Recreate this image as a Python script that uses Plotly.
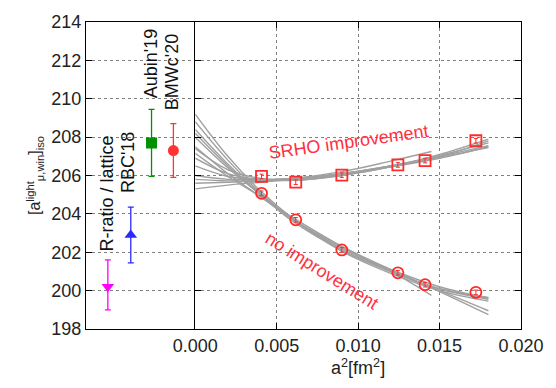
import plotly.graph_objects as go

# ---- left panel: reference determinations ----
ref_labels = ["R-ratio / lattice", "RBC'18", "Aubin'19", "BMWc'20"]
ref_pos = [0.2, 0.41, 0.6, 0.8]
ref_vals = [200.2, 202.9, 207.7, 207.3]
ref_err_plus = [1.4, 1.45, 1.75, 1.4]
ref_err_minus = [1.2, 1.45, 1.75, 1.4]
ref_symbols = ["triangle-down", "triangle-up", "square", "circle"]
ref_colors = ["#ff00ff", "#2a2aff", "#009000", "#ff3333"]

# ---- right panel: lattice data ----
a2 = [0.00407, 0.00617, 0.0090, 0.01244, 0.01411, 0.01723]
srho = [205.95, 205.65, 206.02, 206.55, 206.78, 207.81]
noimp = [205.07, 203.69, 202.12, 200.93, 200.31, 199.91]

# fit curves (values read at knots)
knots = [0, 0.002, 0.004, 0.006, 0.009, 0.012, 0.015, 0.018]
knots_short = [0, 0.002, 0.004, 0.006, 0.009, 0.012, 0.0145]
noimp_fits = [
    [209.2, 207.0, 205.2, 203.75, 202.05, 200.9, 200.0, 199.45],
    [208.8, 206.8, 205.1, 203.7, 202.1, 201.0, 200.1, 199.55],
    [208.4, 206.6, 205.0, 203.6, 202.1, 201.0, 200.0, 198.95],
    [208.0, 206.4, 205.0, 203.7, 202.2, 201.1, 200.2, 199.6],
    [207.5, 206.1, 204.9, 203.7, 202.3, 201.1, 199.95, 198.75],
    [207.15, 205.95, 204.9, 203.8, 202.3, 201.0, 200.1, 199.65],
]
noimp_fits_short = [
    [208.2, 206.5, 205.05, 203.7, 202.2, 201.0, 199.75],
]
srho_fits = [
    [207.4, 206.3, 205.85, 205.75, 206.0, 206.45, 207.0, 207.55],
    [206.9, 206.1, 205.8, 205.75, 206.0, 206.45, 207.1, 207.9],
    [206.5, 205.95, 205.8, 205.8, 206.05, 206.5, 207.05, 207.7],
    [206.0, 205.8, 205.8, 205.85, 206.1, 206.5, 206.95, 207.45],
    [205.6, 205.65, 205.72, 205.85, 206.1, 206.45, 206.9, 207.5],
    [205.3, 205.5, 205.65, 205.8, 206.1, 206.5, 207.0, 207.8],
]
srho_fits_short = [
    [205.8, 205.72, 205.75, 205.85, 206.2, 206.75, 207.25],
]

# ---- axis ticks ----
y_ticks = [198, 200, 202, 204, 206, 208, 210, 212, 214]
x_ticks = [0.000, 0.005, 0.010, 0.015, 0.020]
x_tick_labels = ["0.000", "0.005", "0.010", "0.015", "0.020"]

FONT = "Liberation Sans, Arial, sans-serif"
GRAY = "#a0a0a0"

fig = go.Figure()

# fit curves
for ys in noimp_fits + srho_fits:
    fig.add_trace(go.Scatter(x=knots, y=ys, mode="lines", line=dict(color=GRAY, width=1.4, shape="spline"),
                             xaxis="x2", yaxis="y2", hoverinfo="skip"))
for ys in noimp_fits_short + srho_fits_short:
    fig.add_trace(go.Scatter(x=knots_short, y=ys, mode="lines", line=dict(color=GRAY, width=1.4, shape="spline"),
                             xaxis="x2", yaxis="y2", hoverinfo="skip"))

# data points
fig.add_trace(go.Scatter(x=a2, y=srho, mode="markers", xaxis="x2", yaxis="y2",
                         marker=dict(symbol="square-open", size=11, color="#ff2a2a", line=dict(width=1.8)),
                         error_y=dict(type="constant", value=0.12, color="#ff2a2a", thickness=1, width=2)))
fig.add_trace(go.Scatter(x=a2, y=noimp, mode="markers", xaxis="x2", yaxis="y2",
                         marker=dict(symbol="circle-open", size=11, color="#ff2a2a", line=dict(width=1.8)),
                         error_y=dict(type="constant", value=0.12, color="#ff2a2a", thickness=1, width=2)))

# left panel references
for i in range(len(ref_labels)):
    fig.add_trace(go.Scatter(x=[ref_pos[i]], y=[ref_vals[i]], mode="markers", xaxis="x", yaxis="y",
                             marker=dict(symbol=ref_symbols[i], size=11, color=ref_colors[i]),
                             error_y=dict(type="data", symmetric=False, array=[ref_err_plus[i]],
                                          arrayminus=[ref_err_minus[i]], color=ref_colors[i],
                                          thickness=1.3, width=3)))

# rotated labels in left panel
label_x = [0.19, 0.385, 0.595, 0.79]
label_y = [205.05, 206.65, 211.85, 211.4]
for i in range(len(ref_labels)):
    fig.add_annotation(x=label_x[i], y=label_y[i], xref="x", yref="y", text=ref_labels[i],
                       textangle=-90, showarrow=False, font=dict(family=FONT, size=18, color="#111"))

fig.add_annotation(x=0.0094, y=207.76, xref="x2", yref="y2", text="SRHO improvement",
                   textangle=-8, showarrow=False, font=dict(family=FONT, size=18, color="#ff3040"))
fig.add_annotation(x=0.00778, y=201.0, xref="x2", yref="y2", text="no improvement",
                   textangle=32, showarrow=False, font=dict(family=FONT, size=18, color="#ff3040"))

grid = dict(showgrid=True, gridcolor="#808080", griddash="3px,3px", gridwidth=1)
axis_common = dict(showline=True, linecolor="black", linewidth=1, mirror="ticks",
                   ticks="inside", ticklen=6, tickcolor="black", zeroline=False,
                   tickfont=dict(family=FONT, size=18, color="#222"))
yleft = dict(axis_common)
yleft["mirror"] = False

split = 112 / 446
fig.update_layout(
    width=556, height=388,
    margin=dict(l=86, r=24, t=16, b=59),
    paper_bgcolor="white", plot_bgcolor="white",
    showlegend=False,
    font=dict(family=FONT, size=18, color="#222"),
    xaxis=dict(domain=[0, split], range=[0, 1], anchor="y", showticklabels=False,
               showline=True, linecolor="black", linewidth=1, mirror=True,
               ticks="", showgrid=False, zeroline=False),
    yaxis=dict(range=[198, 214], tickvals=y_ticks, anchor="x", domain=[0, 1],
               title=dict(text="[a<sup>light</sup><sub>μ,win</sub>]<sub>iso</sub>",
                          font=dict(family=FONT, size=16, color="#222"), standoff=6),
               **grid, **yleft),
    xaxis2=dict(domain=[split, 1], range=[0, 0.02], anchor="y2", tickvals=x_ticks,
                ticktext=x_tick_labels,
                title=dict(text="a<sup>2</sup>[fm<sup>2</sup>]", font=dict(family=FONT, size=18, color="#222"),
                           standoff=2),
                **grid, **axis_common),
    yaxis2=dict(range=[198, 214], tickvals=y_ticks, anchor="x2", domain=[0, 1], matches="y",
                showticklabels=False, **grid, **axis_common),
)

fig.write_html("out.html")
